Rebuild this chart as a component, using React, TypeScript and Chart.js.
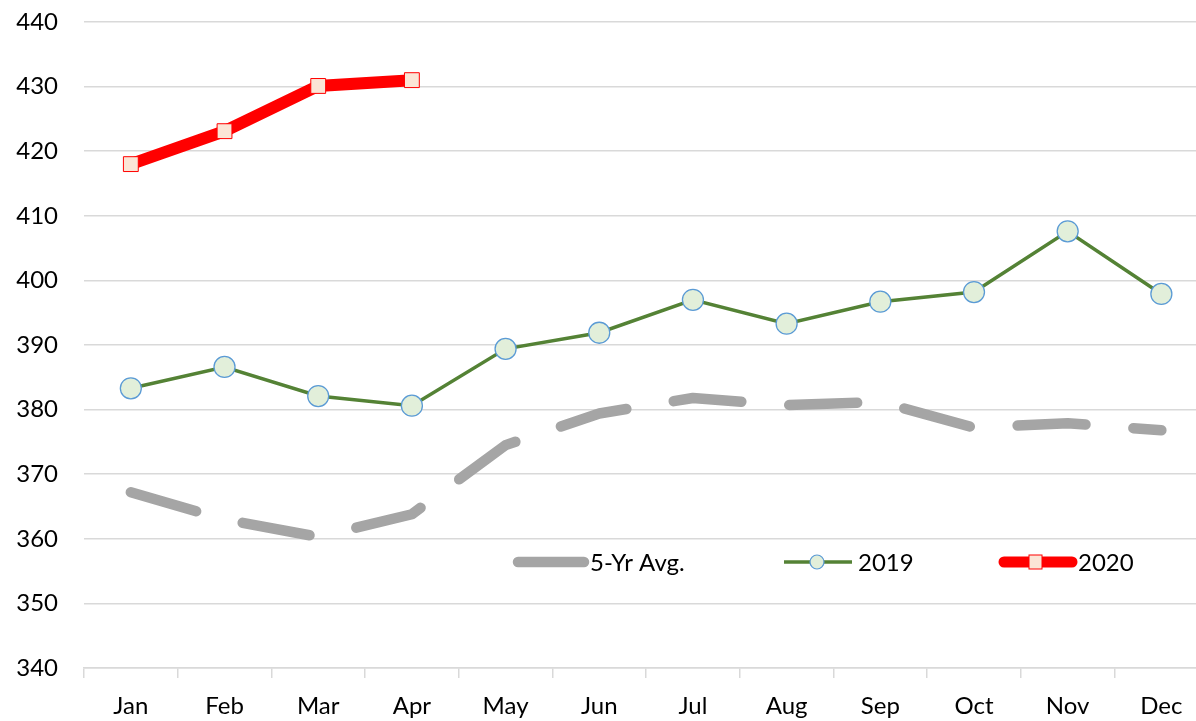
import React, { useEffect, useRef } from "react";
import { Chart, registerables } from "chart.js";

Chart.register(...registerables);

const categories = ["Jan", "Feb", "Mar", "Apr", "May", "Jun", "Jul", "Aug", "Sep", "Oct", "Nov", "Dec"];
const avg5yr = [367.2, 363.0, 360.3, 363.8, 374.5, 379.4, 381.8, 380.7, 381.2, 377.2, 377.9, 376.8];
const y2019 = [383.3, 386.6, 382.1, 380.6, 389.4, 391.9, 397.0, 393.3, 396.7, 398.2, 407.6, 397.9];
const y2020 = [418.0, 423.1, 430.1, 431.0, null, null, null, null, null, null, null, null];
const yTicks = [340, 350, 360, 370, 380, 390, 400, 410, 420, 430, 440];
const legendLabels = ["5-Yr Avg.", "2019", "2020"];

const FONT = "Lato, 'Open Sans', sans-serif";

const legendPlugin = {
  id: "customLegend",
  afterDraw(chart: any) {
    const ctx = chart.ctx;
    const y = 562;
    ctx.save();
    ctx.font = `24px ${FONT}`;
    ctx.fillStyle = "#000";
    ctx.textBaseline = "middle";
    ctx.textAlign = "left";
    // 5-yr avg
    ctx.strokeStyle = "#a5a5a5";
    ctx.lineWidth = 10.5;
    ctx.lineCap = "round";
    ctx.beginPath();
    ctx.moveTo(518, y);
    ctx.lineTo(584, y);
    ctx.stroke();
    ctx.fillText(legendLabels[0], 590, y + 1);
    // 2019
    ctx.strokeStyle = "#548235";
    ctx.lineWidth = 3.5;
    ctx.lineCap = "butt";
    ctx.beginPath();
    ctx.moveTo(784, y);
    ctx.lineTo(852, y);
    ctx.stroke();
    ctx.beginPath();
    ctx.arc(817, y, 7, 0, Math.PI * 2);
    ctx.fillStyle = "#e2efda";
    ctx.fill();
    ctx.strokeStyle = "#5b9bd5";
    ctx.lineWidth = 1.2;
    ctx.stroke();
    ctx.fillStyle = "#000";
    ctx.fillText(legendLabels[1], 858, y + 1);
    // 2020
    ctx.strokeStyle = "#ff0000";
    ctx.lineWidth = 11;
    ctx.lineCap = "round";
    ctx.beginPath();
    ctx.moveTo(1004, y);
    ctx.lineTo(1072, y);
    ctx.stroke();
    ctx.fillStyle = "#fbe5d6";
    ctx.fillRect(1029, y - 7, 13, 14);
    ctx.strokeStyle = "#ff0000";
    ctx.lineWidth = 1;
    ctx.strokeRect(1029, y - 7, 13, 14);
    ctx.fillStyle = "#000";
    ctx.fillText(legendLabels[2], 1078, y + 1);
    ctx.restore();
  },
};

export default function App() {
  const ref = useRef<HTMLCanvasElement | null>(null);
  useEffect(() => {
    if (!ref.current) return;
    const chart = new Chart(ref.current, {
      type: "line",
      data: {
        labels: categories,
        datasets: [
          {
            label: legendLabels[2],
            data: y2020,
            borderColor: "#ff0000",
            borderWidth: 12,
            pointStyle: "rect",
            pointRadius: 10.5,
            pointBackgroundColor: "#fbe5d6",
            pointBorderColor: "#ff0000",
            pointBorderWidth: 1,
            tension: 0,
            spanGaps: false,
            order: 0,
          },
          {
            label: legendLabels[1],
            data: y2019,
            borderColor: "#548235",
            borderWidth: 3.5,
            pointStyle: "circle",
            pointRadius: 10.5,
            pointBackgroundColor: "#e2efda",
            pointBorderColor: "#5b9bd5",
            pointBorderWidth: 1.3,
            tension: 0,
            order: 1,
          },
          {
            label: legendLabels[0],
            data: avg5yr,
            borderColor: "#a5a5a5",
            borderWidth: 10.5,
            borderDash: [68, 48],
            borderCapStyle: "round",
            borderJoinStyle: "round",
            pointRadius: 0,
            tension: 0,
            order: 2,
          },
        ],
      },
      options: {
        animation: false,
        responsive: false,
        maintainAspectRatio: false,
        layout: { padding: { top: 22, right: 8, left: 0, bottom: 0 } },
        plugins: { legend: { display: false }, tooltip: { enabled: false } },
        scales: {
          x: {
            offset: true,
            grid: {
              display: true,
              offset: true,
              drawOnChartArea: false,
              drawTicks: true,
              tickLength: 10,
              color: "#d9d9d9",
              lineWidth: 1.5,
            },
            border: { display: true, color: "#d9d9d9", width: 1.5 },
            ticks: { font: { family: FONT, size: 24 }, color: "#000", padding: 14, maxRotation: 0 },
            afterFit(scale: any) {
              scale.height = 53;
              scale.paddingLeft = 0;
              scale.paddingRight = 0;
            },
          },
          y: {
            min: 340,
            max: 440,
            afterBuildTicks(scale: any) {
              scale.ticks = yTicks.map((v) => ({ value: v }));
            },
            grid: { color: "#d9d9d9", lineWidth: 1.5, drawTicks: false },
            border: { display: false },
            ticks: { font: { family: FONT, size: 24 }, color: "#000", padding: 26 },
            afterFit(scale: any) {
              scale.width = 84;
              scale.paddingTop = 0;
              scale.paddingBottom = 0;
            },
          },
        },
      },
      plugins: [legendPlugin],
    });
    return () => chart.destroy();
  }, []);
  return (
    <div style={{ position: "absolute", left: 0, top: 0, width: 1196, height: 721, overflow: "hidden", background: "#fff" }}>
      <canvas ref={ref} width={1220} height={721} style={{ display: "block" }} />
    </div>
  );
}
